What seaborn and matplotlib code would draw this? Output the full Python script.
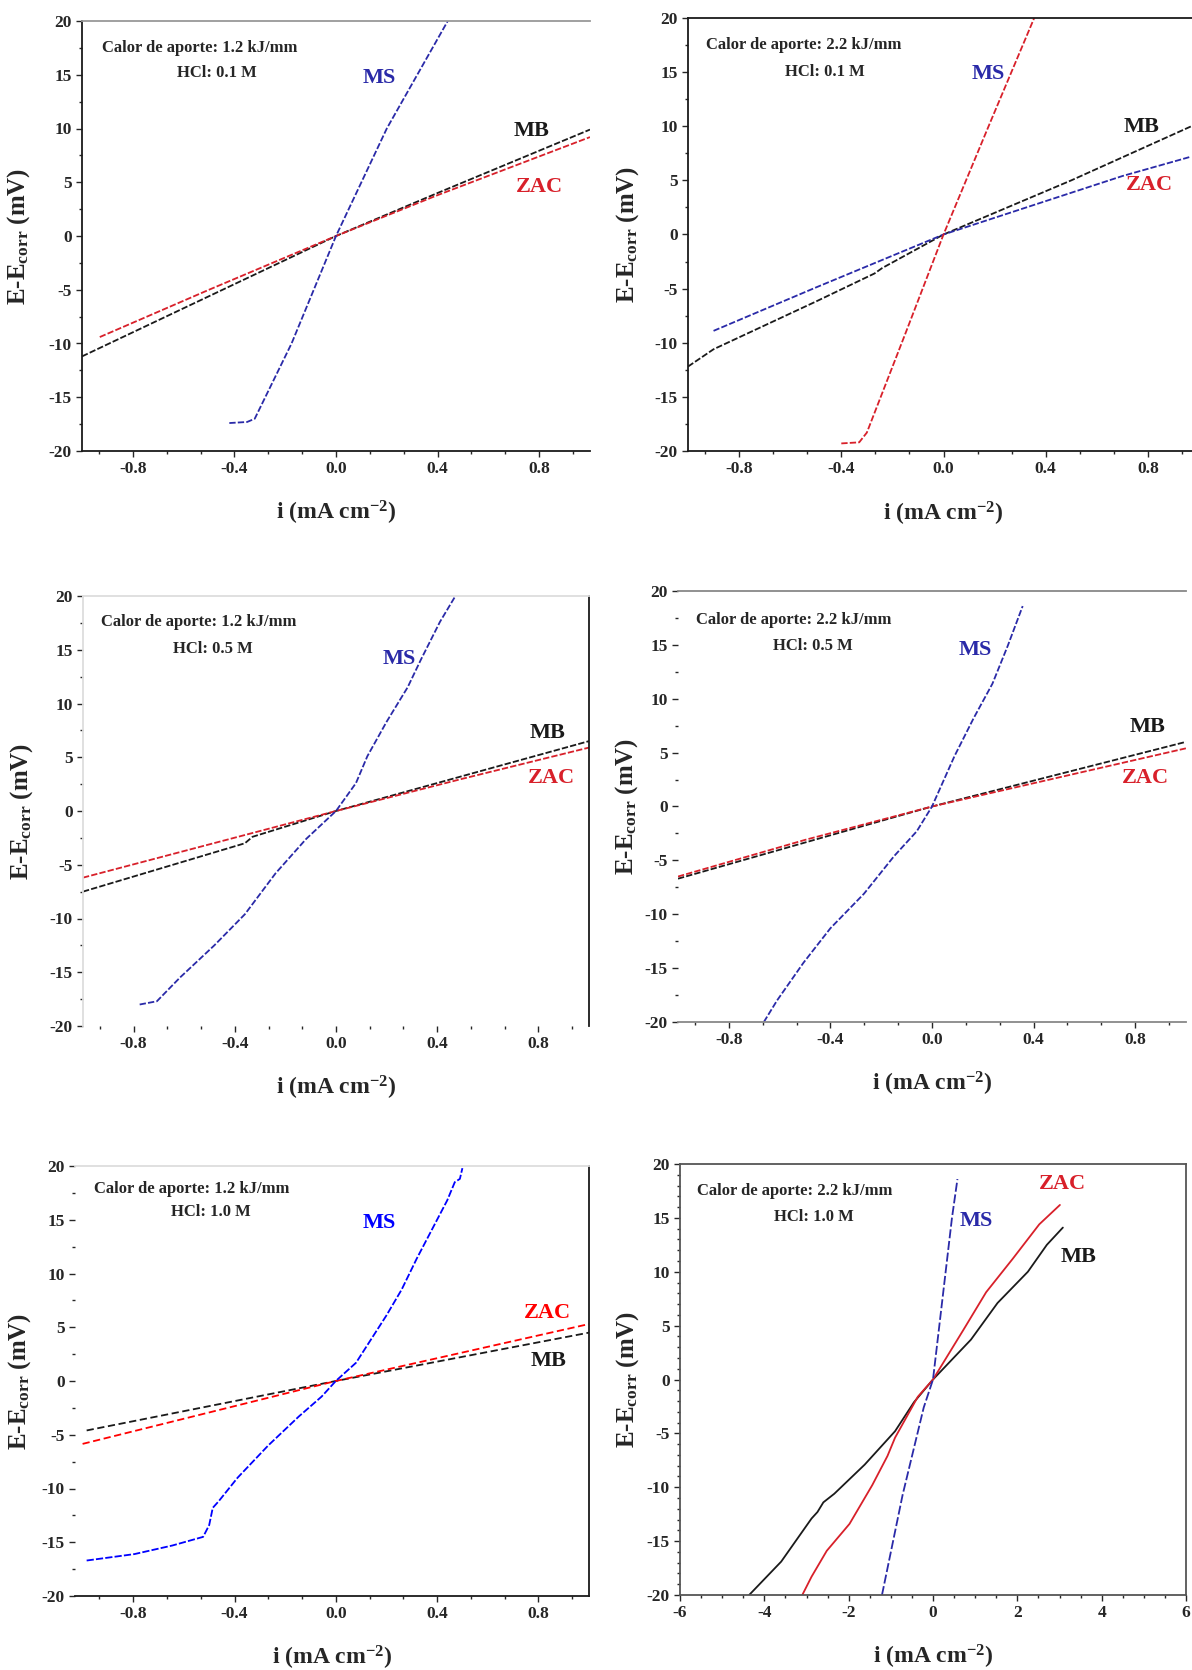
import seaborn as sns
import matplotlib.pyplot as plt
from matplotlib.ticker import MultipleLocator, AutoMinorLocator

# ---- data (i in mA cm-2, E-Ecorr in mV) ----
# Panel 1: 1.2 kJ/mm, HCl 0.1 M
p1_mb_i = [-1.0, -0.5, 0.0, 0.4, 1.0]
p1_mb_e = [-11.2, -5.6, 0.0, 4.0, 9.9]
p1_zac_i = [-0.93, -0.5, 0.0, 0.4, 1.0]
p1_zac_e = [-9.4, -5.0, 0.0, 3.8, 9.2]
p1_ms_i = [-0.42, -0.35, -0.32, -0.175, 0.0, 0.2, 0.44]
p1_ms_e = [-17.4, -17.3, -17.0, -10.0, 0.0, 10.0, 20.0]

# Panel 2: 2.2 kJ/mm, HCl 0.1 M
p2_mb_i = [-1.0, -0.9, -0.5, -0.27, -0.24, 0.0, 0.5, 0.97]
p2_mb_e = [-12.2, -10.6, -6.2, -3.6, -3.1, 0.0, 5.0, 10.0]
p2_zac_i = [-0.9, -0.5, 0.0, 0.7, 0.97]
p2_zac_e = [-8.9, -4.9, 0.0, 5.4, 7.2]
p2_ms_i = [-0.40, -0.33, -0.30, -0.15, 0.0, 0.18, 0.355]
p2_ms_e = [-19.3, -19.2, -18.3, -9.2, 0.0, 10.2, 20.0]

# Panel 3: 1.2 kJ/mm, HCl 0.5 M
p3_mb_i = [-1.0, -0.36, -0.33, 0.0, 1.0]
p3_mb_e = [-7.5, -3.0, -2.4, 0.0, 6.5]
p3_zac_i = [-1.0, -0.5, 0.0, 0.5, 1.0]
p3_zac_e = [-6.2, -3.1, 0.0, 3.0, 5.9]
p3_ms_i = [-0.776, -0.708, -0.617, -0.481, -0.36, -0.239, -0.118, 0.0,
           0.079, 0.124, 0.2, 0.283, 0.336, 0.411, 0.472]
p3_ms_e = [-18.0, -17.7, -15.5, -12.5, -9.6, -5.8, -2.6, 0.0,
           2.6, 5.1, 8.3, 11.5, 14.1, 17.6, 20.0]

# Panel 4: 2.2 kJ/mm, HCl 0.5 M
p4_mb_i = [-1.0, -0.27, 0.0, 1.0]
p4_mb_e = [-6.7, -1.8, 0.0, 6.0]
p4_zac_i = [-1.0, -0.5, 0.0, 1.0]
p4_zac_e = [-6.5, -3.1, 0.0, 5.4]
p4_ms_i = [-0.662, -0.61, -0.506, -0.40, -0.268, -0.149, -0.06, 0.0,
           0.089, 0.164, 0.238, 0.298, 0.357]
p4_ms_e = [-20.0, -18.0, -14.5, -11.3, -8.1, -4.6, -2.3, 0.0,
           4.7, 8.2, 11.4, 14.9, 18.6]

# Panel 5: 1.2 kJ/mm, HCl 1.0 M
p5_mb_i = [-0.984, 0.0, 1.0]
p5_mb_e = [-4.6, 0.0, 4.5]
p5_zac_i = [-1.0, 0.0, 1.0]
p5_zac_e = [-5.85, 0.0, 5.3]
p5_ms_i = [-0.984, -0.795, -0.645, -0.524, -0.50, -0.486, -0.463, -0.388,
           -0.267, -0.146, -0.056, 0.0, 0.08, 0.14, 0.2, 0.26, 0.32, 0.38,
           0.44, 0.47, 0.49, 0.50]
p5_ms_e = [-16.7, -16.1, -15.3, -14.5, -13.4, -11.8, -11.2, -9.0,
           -6.0, -3.3, -1.45, 0.0, 1.7, 3.9, 6.1, 8.5, 11.4, 14.1,
           16.8, 18.5, 18.8, 19.8]

# Panel 6: 2.2 kJ/mm, HCl 1.0 M
p6_mb_i = [-4.36, -3.6, -2.88, -2.74, -2.6, -2.34, -1.62, -0.9, -0.45, 0.0,
           0.9, 1.53, 2.25, 2.7, 3.08]
p6_mb_e = [-20.0, -16.9, -12.9, -12.3, -11.4, -10.6, -7.9, -4.8, -2.1, 0.0,
           3.7, 7.1, 10.0, 12.5, 14.1]
p6_zac_i = [-3.1, -2.88, -2.52, -1.98, -1.44, -1.08, -0.9, -0.36, 0.0,
            0.72, 1.26, 1.89, 2.52, 3.01]
p6_zac_e = [-20.0, -18.3, -15.9, -13.4, -9.8, -7.1, -5.4, -1.6, 0.0,
            4.6, 8.1, 11.2, 14.4, 16.2]
p6_ms_i = [-1.21, -0.72, -0.22, 0.0, 0.45, 0.58]
p6_ms_e = [-20.0, -10.7, -2.6, 0.0, 15.0, 18.6]

heat_inputs = ["1.2", "2.2", "1.2", "2.2", "1.2", "2.2"]
hcl_conc = ["0.1", "0.1", "0.5", "0.5", "1.0", "1.0"]

W, H = 1192, 1670
BLUE, RED = "#2a2aa8", "#d8202a"
DASH = (0, (3.5, 1.2))

sns.set_theme(style="ticks")
plt.rcParams['font.family'] = ['Liberation Serif', 'DejaVu Serif']
plt.rcParams['font.weight'] = 'bold'
plt.rcParams['mathtext.fontset'] = 'custom'
plt.rcParams['mathtext.rm'] = 'Liberation Serif:bold'
plt.rcParams['mathtext.it'] = 'Liberation Serif:bold'
plt.rcParams['mathtext.bf'] = 'Liberation Serif:bold'
plt.rcParams['axes.unicode_minus'] = False


def rect(x0, x1, y0, y1):
    return [x0 / W, 1 - y1 / H, (x1 - x0) / W, (y1 - y0) / H]


panels = [
    dict(rect=rect(82, 590, 21, 451), xlim=(-1, 1), data=[
        (p1_mb_i, p1_mb_e, 'k', DASH), (p1_zac_i, p1_zac_e, RED, DASH),
        (p1_ms_i, p1_ms_e, BLUE, DASH)],
        spines=dict(top='#999999', left='k', bottom='k', right=None),
        info=(-0.92, 17.5, -0.47, 15.2),
        tags=[("MS", 0.17, 14.7, BLUE), ("MB", 0.77, 9.8, 'k'), ("ZAC", 0.80, 4.6, RED)],
        ylab=-0.098),
    dict(rect=rect(688, 1199, 18, 451), xlim=(-1, 1), data=[
        (p2_mb_i, p2_mb_e, 'k', DASH), (p2_zac_i, p2_zac_e, BLUE, DASH),
        (p2_ms_i, p2_ms_e, RED, DASH)],
        spines=dict(top='k', left='k', bottom='k', right='k'),
        info=(-0.93, 17.5, -0.465, 15.0),
        tags=[("MS", 0.177, 14.8, BLUE), ("MB", 0.776, 9.9, 'k'), ("ZAC", 0.805, 4.6, RED)],
        ylab=-0.092),
    dict(rect=rect(83, 589, 596, 1026), xlim=(-1, 1), data=[
        (p3_mb_i, p3_mb_e, 'k', DASH), (p3_zac_i, p3_zac_e, RED, DASH),
        (p3_ms_i, p3_ms_e, BLUE, DASH)],
        spines=dict(top='#dddddd', left='#dddddd', bottom=None, right='k'),
        info=(-0.927, 17.6, -0.488, 15.1),
        tags=[("MS", 0.25, 14.1, BLUE), ("MB", 0.835, 7.3, 'k'), ("ZAC", 0.85, 3.1, RED)],
        ylab=-0.094),
    dict(rect=rect(678, 1186, 591, 1022), xlim=(-1, 1), data=[
        (p4_mb_i, p4_mb_e, 'k', DASH), (p4_zac_i, p4_zac_e, RED, DASH),
        (p4_ms_i, p4_ms_e, BLUE, DASH)],
        spines=dict(top='#888888', left=None, bottom='#888888', right=None),
        info=(-0.93, 17.3, -0.469, 14.9),
        tags=[("MS", 0.171, 14.5, BLUE), ("MB", 0.848, 7.4, 'k'), ("ZAC", 0.84, 2.6, RED)],
        ylab=-0.074),
    dict(rect=rect(75, 589, 1166, 1596), xlim=(-1.03, 1.0), data=[
        (p5_mb_i, p5_mb_e, 'k', (0, (4, 2))), (p5_zac_i, p5_zac_e, 'red', (0, (4, 2))),
        (p5_ms_i, p5_ms_e, 'blue', (0, (4, 1.2)))],
        spines=dict(top='#dddddd', left=None, bottom='k', right='k'),
        info=(-0.954, 17.9, -0.494, 15.7),
        tags=[("MS", 0.171, 14.7, 'blue'), ("ZAC", 0.835, 6.3, 'red'), ("MB", 0.842, 1.85, 'k')],
        ylab=-0.081),
    dict(rect=rect(680, 1186, 1164, 1595), xlim=(-6, 6), data=[
        (p6_mb_i, p6_mb_e, 'k', '-'), (p6_zac_i, p6_zac_e, RED, '-'),
        (p6_ms_i, p6_ms_e, BLUE, (0, (5, 1.5)))],
        spines=dict(top='#555555', left='#555555', bottom='#555555', right='#555555'),
        info=(-5.59, 17.5, -2.83, 15.1),
        tags=[("MS", 1.03, 14.7, BLUE), ("ZAC", 3.06, 18.1, RED), ("MB", 3.46, 11.4, 'k')],
        ylab=-0.078),
]

fig = plt.figure(figsize=(W / 100, H / 100), dpi=100)

for n, p in enumerate(panels):
    ax = fig.add_axes(p['rect'])
    for xs, ys, c, ls in p['data']:
        sns.lineplot(x=xs, y=ys, ax=ax, color=c, sort=False, estimator=None,
                     linewidth=1.3, linestyle=ls)
    ax.set_xlim(*p['xlim'])
    ax.set_ylim(-20, 20)

    if n == 5:
        ax.xaxis.set_major_locator(MultipleLocator(2))
        ax.xaxis.set_minor_locator(AutoMinorLocator(4))
        ax.yaxis.set_minor_locator(AutoMinorLocator(5))
    else:
        ax.xaxis.set_major_locator(MultipleLocator(0.4))
        ax.xaxis.set_minor_locator(AutoMinorLocator(3))
        ax.yaxis.set_minor_locator(AutoMinorLocator(2))
        ax.xaxis.set_major_formatter(plt.FuncFormatter(lambda v, _: f"{v:.1f}"))
    ax.yaxis.set_major_locator(MultipleLocator(5))

    ax.tick_params(which='both', direction='out', labelsize=12.5, width=1.0)
    ax.tick_params(which='major', length=4)
    ax.tick_params(which='minor', length=2)
    for lab in ax.get_xticklabels() + ax.get_yticklabels():
        lab.set_fontweight('bold')

    for side, col in p['spines'].items():
        if col is None:
            ax.spines[side].set_visible(False)
        else:
            ax.spines[side].set_color(col)
            ax.spines[side].set_linewidth(1.3)

    ax.set_xlabel(r"i (mA cm$^{\mathregular{-2}}$)", fontsize=17, fontweight='bold')
    ax.set_ylabel(r"E-E$_{\mathregular{corr}}$ (mV)", fontsize=18, fontweight='bold')
    ax.xaxis.set_label_coords(0.5, -0.112)
    ax.yaxis.set_label_coords(p['ylab'], 0.5)

    x0, y0, x1, y1 = p['info']
    ax.text(x0, y0, f"Calor de aporte: {heat_inputs[n]} kJ/mm", fontsize=12,
            fontweight='bold', ha='left', va='center')
    ax.text(x1, y1, f"HCl: {hcl_conc[n]} M", fontsize=12, fontweight='bold',
            ha='center', va='center')
    for txt, tx, ty, c in p['tags']:
        ax.text(tx, ty, txt, fontsize=16, fontweight='bold', color=c,
                ha='center', va='center')

fig.savefig("out.png", dpi=100, facecolor='white')
